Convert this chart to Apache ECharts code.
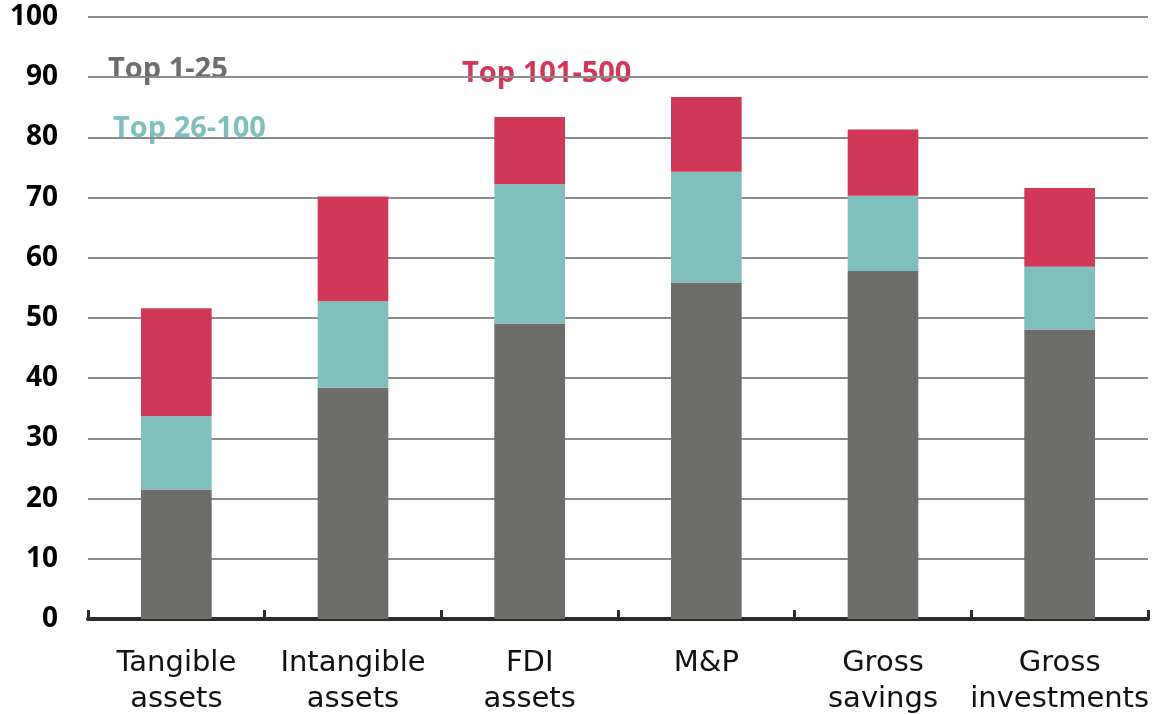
<!DOCTYPE html>
<html>
<head>
<meta charset="utf-8">
<script src="https://cdn.jsdelivr.net/npm/echarts@6/dist/echarts.min.js"></script>
<style>
  html, body { margin: 0; padding: 0; background: #ffffff; }
  #chart { width: 1157px; height: 714px; }
</style>
</head>
<body>
<div id="chart"></div>
<script>
// Categories along the x axis
const categories = ['Tangible\nassets', 'Intangible\nassets', 'FDI\nassets', 'M&P', 'Gross\nsavings', 'Gross\ninvestments'];

// Stacked segments (share, %)
const top1to25 = [21.5, 38.4, 49.1, 55.9, 57.8, 48.1];
const top26to100 = [12.2, 14.4, 23.1, 18.4, 12.5, 10.4];
const top101to500 = [17.9, 17.4, 11.2, 12.4, 11.0, 13.1];

const seriesNames = ['Top 1-25', 'Top 26-100', 'Top 101-500'];
const colors = ['#6d6e6b', '#7fbfbe', '#d13757'];

const chart = echarts.init(document.getElementById('chart'));

function barSeries(name, data, color) {
  return {
    name: name,
    type: 'bar',
    stack: 'total',
    data: data,
    barWidth: '40%',
    itemStyle: { color: color }
  };
}

const labelFont = 'bold 29px "Open Sans"';

chart.setOption({
  animation: false,
  backgroundColor: '#ffffff',
  grid: { left: 88, right: 9, top: 17, bottom: 95, outerBoundsMode: 'none', containLabel: false },
  xAxis: {
    type: 'category',
    data: categories,
    axisLine: { show: true, lineStyle: { color: '#2b2b27', width: 4 } },
    axisTick: { show: true, inside: true, length: 9, lineStyle: { color: '#2b2b27', width: 3 } },
    axisLabel: {
      color: '#111111',
      fontFamily: 'DejaVu Sans',
      fontSize: 29,
      lineHeight: 36,
      margin: 26,
      interval: 0
    }
  },
  yAxis: {
    type: 'value',
    min: 0,
    max: 100,
    interval: 10,
    axisLine: { show: false },
    axisTick: { show: false },
    splitLine: { lineStyle: { color: '#8c8c8c', width: 2 } },
    axisLabel: {
      color: '#000000',
      fontFamily: 'Open Sans',
      fontWeight: 'bold',
      fontSize: 28,
      margin: 30
    }
  },
  series: [
    barSeries(seriesNames[0], top1to25, colors[0]),
    barSeries(seriesNames[1], top26to100, colors[1]),
    barSeries(seriesNames[2], top101to500, colors[2])
  ],
  graphic: [
    { type: 'text', left: 108, top: 55, style: { text: seriesNames[0], fill: colors[0], font: labelFont } },
    { type: 'text', left: 113, top: 114, style: { text: seriesNames[1], fill: colors[1], font: labelFont } },
    { type: 'text', left: 462, top: 59, style: { text: seriesNames[2], fill: colors[2], font: labelFont } }
  ]
});
</script>
</body>
</html>
